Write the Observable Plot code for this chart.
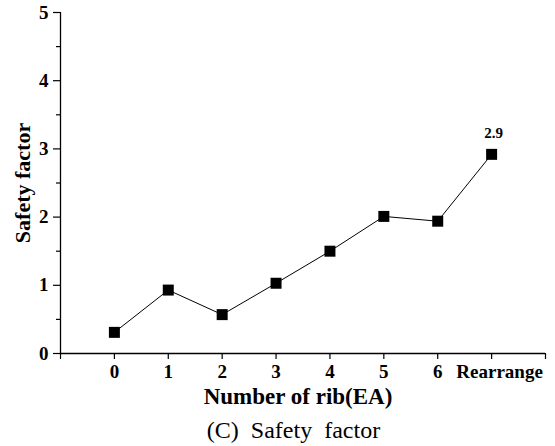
<!DOCTYPE html>
<html>
<head>
<meta charset="utf-8">
<script src="https://cdn.jsdelivr.net/npm/d3@7"></script>
<script src="https://cdn.jsdelivr.net/npm/@observablehq/plot@0.6"></script>
<style>
  body { margin: 0; background: #fff; }
  #chart { width: 555px; height: 412px; }
  #caption { font-family: "Liberation Serif", "Times New Roman", serif; font-size: 24px; line-height: 26px; text-align: center; width: 555px; margin-top: 5px; padding-left: 32px; box-sizing: border-box; white-space: pre; }
</style>
</head>
<body>
<div id="chart"></div>
<div id="caption">(C)  Safety  factor</div>
<script>
const categories = ["0", "1", "2", "3", "4", "5", "6", "Rearrange"];
const safetyFactor = [0.31, 0.93, 0.57, 1.03, 1.5, 2.01, 1.94, 2.92];
const yTicks = [0, 1, 2, 3, 4, 5];
const yMinorTicks = [0.5, 1.5, 2.5, 3.5, 4.5];
const annotation = "2.9";

const data = categories.map((c, i) => ({i, c, v: safetyFactor[i]}));
const last = categories.length - 1;
const font = '"Liberation Serif", "Times New Roman", serif';

const plot = Plot.plot({
  width: 555,
  height: 412,
  marginLeft: 60,
  marginRight: 10,
  marginTop: 12,
  marginBottom: 59,
  style: {fontFamily: font, fontWeight: "bold", fontSize: "17px", color: "#000", background: "#fff"},
  x: {domain: [-1, categories.length], label: null},
  y: {domain: [0, 5], label: null},
  marks: [
    Plot.ruleX([-1], {stroke: "#000", strokeWidth: 1.3}),
    Plot.ruleY([0], {stroke: "#000", strokeWidth: 1.3}),
    Plot.axisY({ticks: yTicks, tickSize: 7, tickPadding: 5, tickFormat: d => d, fontSize: 19, fontWeight: "bold", fontFamily: font, strokeWidth: 1.2}),
    Plot.axisY({ticks: yMinorTicks, tickSize: 4, text: null, strokeWidth: 1.2}),
    Plot.axisX({ticks: d3.range(-1, categories.length + 1), tickSize: 6, tickPadding: 5, tickFormat: d => (d < last ? categories[d] : "") ?? "", fontSize: 19, fontWeight: "bold", fontFamily: font, strokeWidth: 1.2}),
    Plot.text([data[last]], {x: "i", text: "c", frameAnchor: "bottom", lineAnchor: "top", dy: 11, dx: 8, fontSize: 19, fontWeight: "bold", fontFamily: font}),
    Plot.text(["Number of rib(EA)"], {frameAnchor: "bottom", textAnchor: "middle", lineAnchor: "middle", dx: -5, dy: 43, fontSize: 23, fontWeight: "bold", fontFamily: font}),
    Plot.text(["Safety factor"], {frameAnchor: "left", textAnchor: "middle", lineAnchor: "middle", dx: -38, rotate: -90, fontSize: 22, fontWeight: "bold", fontFamily: font}),
    Plot.line(data, {x: "i", y: "v", stroke: "#000", strokeWidth: 1}),
    Plot.dot(data, {x: "i", y: "v", symbol: "square", r: 6.2, fill: "#000", stroke: "none"}),
    Plot.text([data[last]], {x: "i", y: "v", text: () => annotation, dy: -21, dx: 2, fontSize: 15, fontWeight: "bold", fontFamily: font})
  ]
});
document.getElementById("chart").appendChild(plot);
</script>
</body>
</html>
